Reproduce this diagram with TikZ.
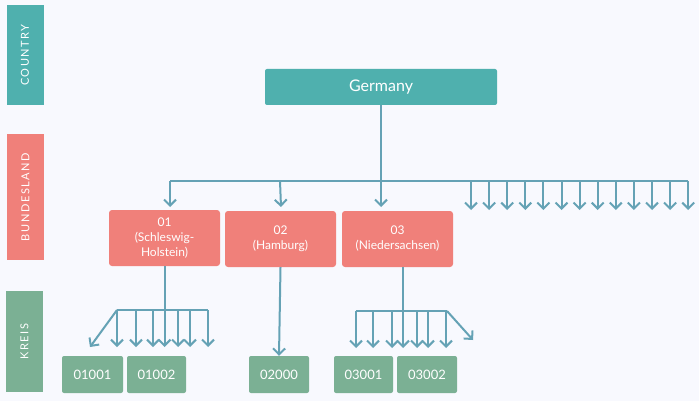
\documentclass[tikz,border=0pt]{standalone}
\usepackage{fontspec}
\setmainfont{Lato}
\newfontfamily\sidefont[LetterSpace=14]{Lato}
\usetikzlibrary{positioning,arrows.meta}
\definecolor{bgc}{RGB}{248,249,254}
\definecolor{cntry}{RGB}{79,176,174}
\definecolor{bland}{RGB}{240,128,122}
\definecolor{krs}{RGB}{123,176,148}
\definecolor{lnk}{RGB}{101,162,181}
\tikzset{
  lvl/.style={rectangle, rotate=90, minimum height=37pt, text centered, text=white, font=\sidefont\fontsize{11}{13}\selectfont},
  de/.style={rectangle, rounded corners=2pt, minimum width=232pt, minimum height=36pt, text centered, fill=cntry, text=white, font=\fontsize{16}{19}\selectfont},
  bl/.style={rectangle, rounded corners=3pt, minimum width=111pt, minimum height=56pt, align=center, fill=bland, text=white, font=\fontsize{12}{15}\selectfont},
  kr/.style={rectangle, rounded corners=2pt, minimum width=59pt, minimum height=37pt, text centered, fill=krs, text=white, font=\fontsize{13}{15}\selectfont},
  link/.style={draw=lnk, line width=2pt},
  arr/.style={link, -{Straight Barb[length=6pt,width=12pt,line width=2pt]}}
}
\begin{document}
\begin{tikzpicture}[x=1pt,y=-1pt]
	\fill[bgc] (0,0) rectangle (699,401);
	\useasboundingbox (0,0) rectangle (699,401);
	% level bars
	\node[lvl, fill=cntry, minimum width=100pt] (country) at (25,55) {COUNTRY};
	\node[lvl, fill=bland, minimum width=126pt] (bundesland) at (25.5,197) {BUNDESLAND};
	\node[lvl, fill=krs, minimum width=101pt] (kreis) at (24.5,341.5) {KREIS};
	%
	\node[de] (germany) at (381,87) {Germany};
	\node[bl] (sh) at (164.5,238) {01\\(Schleswig-\\Holstein)};
	\node[bl] (hh) at (280.5,239) {02\\(Hamburg)};
	\node[bl] (ni) at (397.5,239) {03\\(Niedersachsen)};
	\node[kr, minimum width=61pt] (k01001) at (92.5,374.5) {01001};
	\node[kr] (k01002) at (156.5,374.5) {01002};
	\node[kr, minimum width=60pt] (k02000) at (279,374.5) {02000};
	\node[kr] (k03001) at (363.5,374.5) {03001};
	\node[kr, minimum width=60pt] (k03002) at (427,374.5) {03002};
	%
	\coordinate (hub) at (germany.south |- 0,181);
	\coordinate (bll) at (170,181);
	\coordinate (blr) at (688,181);
	\coordinate (hhtop) at (280,181);
	\draw[link] (germany.south) -- (hub);
	\draw[link] (bll) -- (blr);
	\draw[arr] (bll) -- (bll |- 0,207);
	\draw[arr] (hhtop) -- (281,207);
	\draw[arr] (hub) -- (hub |- 0,207);
	\foreach \i in {0,...,12}
		\draw[arr] (471+18.1*\i,181) -- ++(0,29);
	% Kreise 01
	\coordinate (shl) at (117,310);
	\coordinate (shr) at (208,310);
	\draw[arr] (sh.south) -- (sh.south |- 0,347);
	\draw[link] (shl) -- (shr);
	\draw[arr] (shl) -- (90,347);
	\foreach \x in {117,136,153,178,190,208}
		\draw[arr] (\x,310) -- (\x,347);
	% Kreis 02
	\draw[arr] (hh.south) -- (k02000.north);
	% Kreise 03
	\coordinate (nil) at (356,311);
	\coordinate (nir) at (447,311);
	\draw[arr] ([xshift=5.5pt]ni.south) -- (403,348);
	\draw[link] (nil) -- (nir);
	\draw[arr] (nir) -- (473,340);
	\foreach \x in {356,373,392,417,428,446}
		\draw[arr] (\x,311) -- (\x,348);
\end{tikzpicture}
\end{document}
